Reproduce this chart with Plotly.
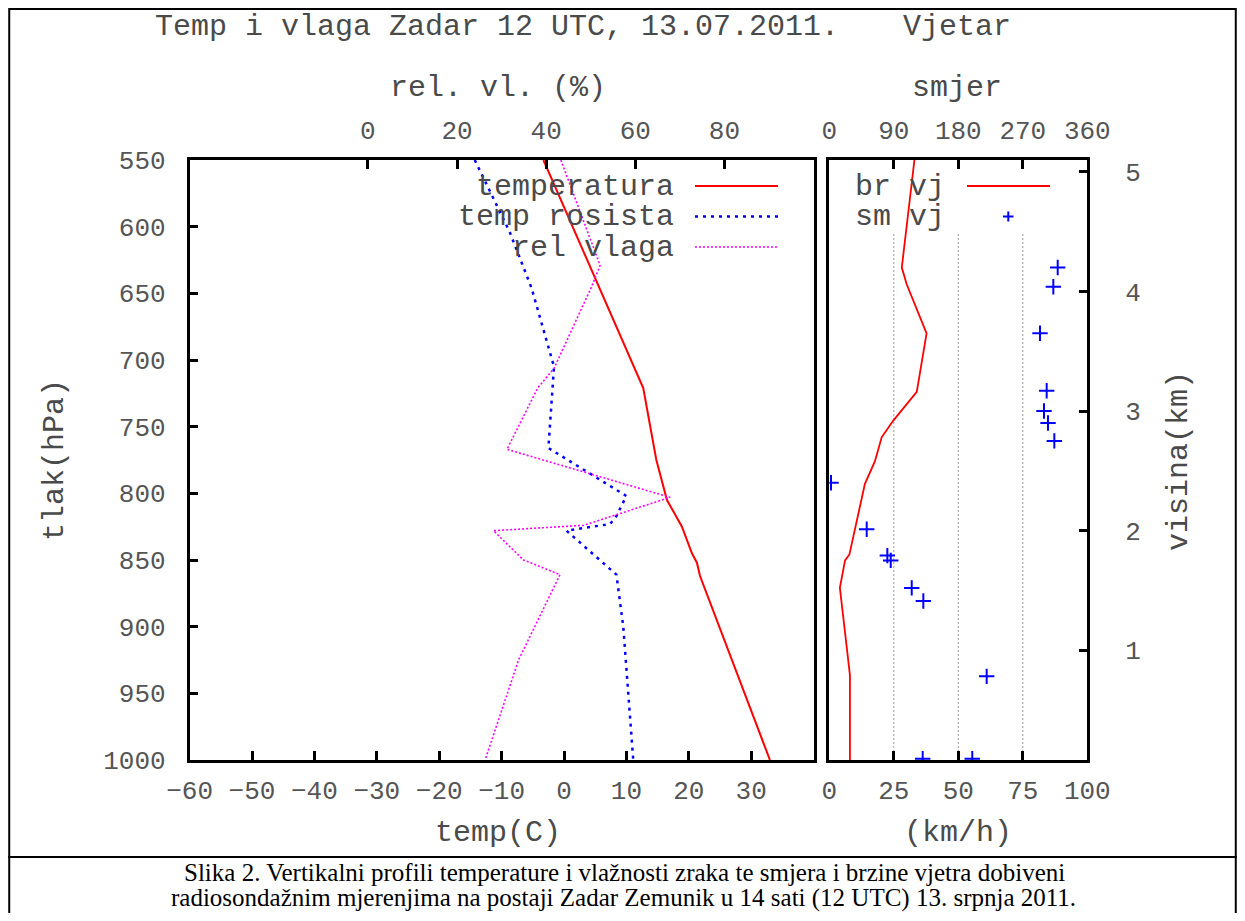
import plotly.graph_objects as go

# ---------------- data ----------------
# left panel: vertical profiles vs pressure (hPa)
temp_p = [550, 721, 775, 805, 825, 845, 852, 862, 1000]
temp_c = [-3.3, 12.7, 14.8, 16.5, 18.9, 20.5, 21.3, 21.8, 33.0]

dew_p = [550, 604, 646, 705, 766, 802, 817, 823, 828, 861, 900, 1000]
dew_c = [-14.3, -8.7, -5.2, -1.6, -2.5, 10.0, 8.4, 7.4, 0.4, 8.4, 9.5, 11.1]

rh_p = [550, 629, 645, 706, 721, 767, 803, 824, 828, 850, 861, 925, 1000]
rh_pct = [43.3, 52.1, 50.2, 41.8, 38.1, 31.2, 67.8, 48.4, 28.2, 34.9, 43.1, 33.8, 26.3]

# right panel: wind vs height (km)
spd_h = [5.10, 4.20, 4.06, 3.65, 3.16, 2.92, 2.78, 2.58, 2.39, 1.88, 1.80, 1.75, 1.52, 0.79, 0.08]
spd_kmh = [33.0, 28.1, 30.0, 37.7, 33.9, 24.8, 20.3, 17.7, 13.8, 8.7, 7.8, 6.1, 4.1, 8.0, 8.0]

dir_h = [4.20, 4.04, 3.65, 3.17, 3.00, 2.90, 2.75, 2.40, 2.01, 1.79, 1.75, 1.52, 1.41, 0.78, 0.09, 0.09]
dir_deg = [318.7, 312.6, 294.0, 303.3, 299.6, 305.2, 314.0, 2.4, 52.2, 81.0, 85.7, 115.0, 131.2, 219.6, 130.3, 199.5]

# tick values / labels
pressure_ticks = [550, 600, 650, 700, 750, 800, 850, 900, 950, 1000]
temp_ticks = [-60, -50, -40, -30, -20, -10, 0, 10, 20, 30]
rh_ticks = [0, 20, 40, 60, 80]
speed_ticks = [0, 25, 50, 75, 100]
dir_ticks = [0, 90, 180, 270, 360]
height_ticks = [1, 2, 3, 4, 5]
grid_speeds = [25, 50, 75]

# ---------------- geometry helpers (pixel -> paper) ----------------
W, H = 1229, 905
OX, OY = 8, 8  # default page body margin


def px(x):
    return (x - OX) / W


def py(y):
    return 1 - (y - OY) / H


MONO = "Liberation Mono"
TXT = "#4a4a4a"
TICKC = "#555555"

fig = go.Figure()

fig.add_trace(go.Scatter(x=temp_c, y=temp_p, mode="lines", name="temperatura",
                         line=dict(color="#ff0000", width=2), xaxis="x", yaxis="y"))
fig.add_trace(go.Scatter(x=dew_c, y=dew_p, mode="lines", name="temp rosista",
                         line=dict(color="#0000ff", width=2.5, dash="3px,5px"), xaxis="x", yaxis="y"))
fig.add_trace(go.Scatter(x=rh_pct, y=rh_p, mode="lines", name="rel vlaga",
                         line=dict(color="#ff00ff", width=1.6, dash="2px,2px"), xaxis="x2", yaxis="y"))
fig.add_trace(go.Scatter(x=spd_kmh, y=spd_h, mode="lines", name="br vj",
                         line=dict(color="#ff0000", width=1.8), xaxis="x3", yaxis="y2"))
fig.add_trace(go.Scatter(x=dir_deg, y=dir_h, mode="markers", name="sm vj",
                         marker=dict(symbol="cross-thin", size=11, color="#0000ff",
                                     line=dict(color="#0000ff", width=2)),
                         xaxis="x4", yaxis="y2"))

axis_common = dict(showgrid=False, zeroline=False, showline=True, linecolor="black",
                   linewidth=2.5, ticks="inside", ticklen=9, tickwidth=2.5, automargin=False,
                   tickcolor="black", tickfont=dict(family=MONO, size=26, color=TICKC))

left_dom = [px(189.6), px(813.6)]
right_dom = [px(829.3), px(1087.3)]
y_dom = [py(760), py(160)]

fig.update_layout(
    width=W, height=H,
    margin=dict(l=0, r=0, t=0, b=0, pad=0),
    paper_bgcolor="white", plot_bgcolor="white",
    showlegend=False,
    xaxis=dict(domain=left_dom, range=[-60, 40], tickvals=temp_ticks, anchor="y",
               mirror=True, ticklabelstandoff=5, **axis_common),
    xaxis2=dict(overlaying="x", side="top", range=[-40, 100], tickvals=rh_ticks,
                anchor="y", ticklabelstandoff=8, **axis_common),
    yaxis=dict(domain=y_dom, range=[1000, 550], tickvals=pressure_ticks, anchor="x",
               mirror=True, ticklabelstandoff=16, **axis_common),
    xaxis3=dict(domain=right_dom, range=[0, 100], tickvals=speed_ticks, anchor="y2",
                mirror=True, ticklabelstandoff=5, **axis_common),
    xaxis4=dict(overlaying="x3", side="top", range=[0, 360], tickvals=dir_ticks,
                anchor="y2", ticklabelstandoff=8, **axis_common),
    yaxis2=dict(domain=y_dom, range=[0.08, 5.10], tickvals=height_ticks, anchor="x3",
                side="right", mirror=True, ticklabelstandoff=30, **axis_common),
)

shapes = []
# dotted grid in wind panel (starts below the key)
for v in grid_speeds:
    shapes.append(dict(type="line", xref="x3", yref="paper", x0=v, x1=v,
                       y0=py(760), y1=py(232), layer="below",
                       line=dict(color="#999999", width=1, dash="2px,2px")))
# key samples
shapes.append(dict(type="line", xref="paper", yref="paper", x0=px(695), x1=px(778),
                   y0=py(186), y1=py(186), line=dict(color="#ff0000", width=2)))
shapes.append(dict(type="line", xref="paper", yref="paper", x0=px(695), x1=px(778),
                   y0=py(216.5), y1=py(216.5), line=dict(color="#0000ff", width=2.5, dash="3px,5px")))
shapes.append(dict(type="line", xref="paper", yref="paper", x0=px(695), x1=px(778),
                   y0=py(247), y1=py(247), line=dict(color="#ff00ff", width=1.6, dash="2px,2px")))
shapes.append(dict(type="line", xref="paper", yref="paper", x0=px(967), x1=px(1050),
                   y0=py(186), y1=py(186), line=dict(color="#ff0000", width=1.8)))
shapes.append(dict(type="line", xref="paper", yref="paper", x0=px(1003), x1=px(1013.5),
                   y0=py(216.5), y1=py(216.5), line=dict(color="#0000ff", width=2)))
shapes.append(dict(type="line", xref="paper", yref="paper", x0=px(1008.3), x1=px(1008.3),
                   y0=py(211.5), y1=py(221.5), line=dict(color="#0000ff", width=2)))
# document frame and caption separator
shapes.append(dict(type="rect", xref="paper", yref="paper", x0=0.001, x1=0.999, y0=-0.01, y1=0.999,
                   line=dict(color="black", width=2)))
shapes.append(dict(type="line", xref="paper", yref="paper", x0=0, x1=1,
                   y0=py(857), y1=py(857), line=dict(color="black", width=2)))
fig.update_layout(shapes=shapes)


def ann(text, x, y, size=30, xanchor="center", angle=0, family=MONO, color=TXT):
    return dict(text=text, x=px(x), y=py(y), xref="paper", yref="paper",
                showarrow=False, xanchor=xanchor, yanchor="middle", textangle=angle,
                font=dict(family=family, size=size, color=color))


annotations = [
    ann("Temp i vlaga Zadar 12 UTC, 13.07.2011.", 497, 27),
    ann("Vjetar", 957, 27),
    ann("rel. vl. (%)", 498, 88),
    ann("smjer", 957, 88),
    ann("tlak(hPa)", 55, 460, angle=-90),
    ann("visina(km)", 1179, 461, angle=-90),
    ann("temp(C)", 498, 833),
    ann("(km/h)", 958, 833),
    # key labels (right-justified, as in the original)
    ann("temperatura", 676, 187, xanchor="right"),
    ann("temp rosista", 676, 217.5, xanchor="right"),
    ann("rel vlaga", 676, 248, xanchor="right"),
    ann("br vj", 947, 187, xanchor="right"),
    ann("sm vj", 947, 217.5, xanchor="right"),
    # caption
    ann("Slika 2. Vertikalni profili temperature i vlažnosti zraka te smjera i brzine vjetra dobiveni",
        624, 872, size=25, family="Liberation Serif", color="black"),
    ann("radiosondažnim mjerenjima na postaji Zadar Zemunik u 14 sati (12 UTC) 13. srpnja 2011.",
        623, 897.5, size=25, family="Liberation Serif", color="black"),
]
fig.update_layout(annotations=annotations)

fig.write_html("out.html")
